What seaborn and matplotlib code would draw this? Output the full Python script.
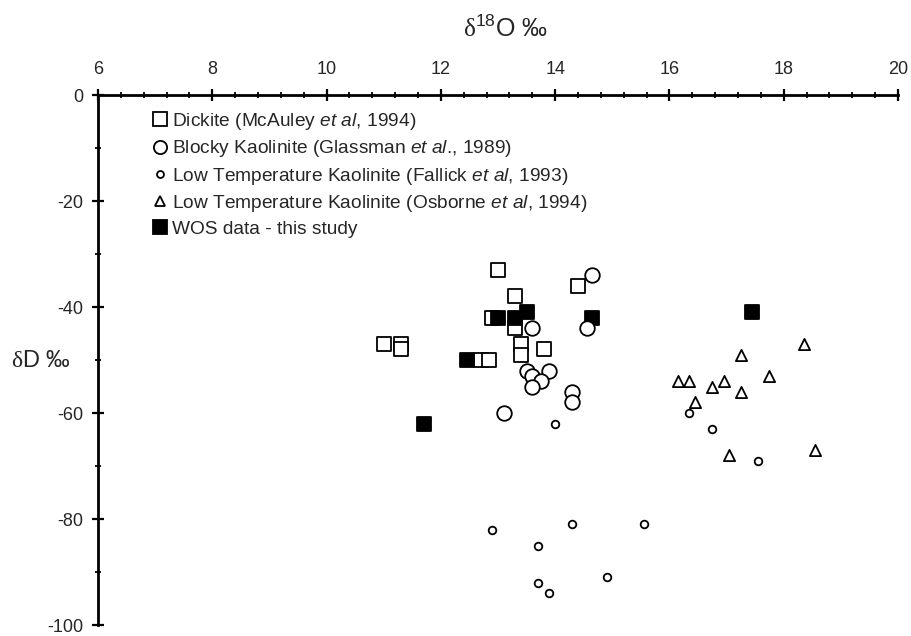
import matplotlib
matplotlib.use("Agg")
import matplotlib.pyplot as plt
import seaborn as sns
import pandas as pd
from matplotlib.ticker import MultipleLocator
from matplotlib.lines import Line2D

# ---------------- data ----------------
dickite_x = [11.0, 11.3, 11.3, 12.7, 12.85, 13.0, 13.3, 12.9, 13.3, 13.4, 13.4, 13.8, 14.4]
dickite_y = [-47, -47, -48, -50, -50, -33, -38, -42, -44, -47, -49, -48, -36]

blocky_x = [14.65, 13.6, 14.55, 13.5, 13.9, 13.6, 13.75, 13.6, 14.3, 14.3, 13.1]
blocky_y = [-34, -44, -44, -52, -52, -53, -54, -55, -56, -58, -60]

fallick_x = [14.0, 16.35, 16.75, 17.55, 12.9, 14.3, 15.55, 13.7, 13.7, 13.9, 14.9]
fallick_y = [-62, -60, -63, -69, -82, -81, -81, -85, -92, -94, -91]

osborne_x = [16.15, 16.35, 16.45, 16.75, 16.95, 17.25, 17.25, 17.75, 18.35, 17.05, 18.55]
osborne_y = [-54, -54, -58, -55, -54, -49, -56, -53, -47, -68, -67]

wos_x = [12.45, 11.7, 13.0, 13.3, 13.5, 14.65, 17.45]
wos_y = [-50, -62, -42, -42, -41, -42, -41]

labels = [
    r"Dickite (McAuley $\it{et\ al}$, 1994)",
    r"Blocky Kaolinite (Glassman $\it{et\ al}$., 1989)",
    r"Low Temperature Kaolinite (Fallick $\it{et\ al}$, 1993)",
    r"Low Temperature Kaolinite (Osborne $\it{et\ al}$, 1994)",
    "WOS data - this study",
]

# ---------------- style ----------------
sns.set_theme(style="white")
plt.rcParams["font.family"] = ["Liberation Sans", "DejaVu Sans"]
plt.rcParams["axes.unicode_minus"] = False
plt.rcParams["mathtext.fontset"] = "custom"
plt.rcParams["mathtext.rm"] = "Liberation Serif"
plt.rcParams["mathtext.it"] = "Liberation Sans:italic"
plt.rcParams["mathtext.sf"] = "Liberation Sans"
plt.rcParams["mathtext.bf"] = "Liberation Sans:bold"

fig = plt.figure(figsize=(9.12, 6.36), dpi=100)
ax = fig.add_axes([98 / 912, 1 - 625 / 636, 800 / 912, 530 / 636])

lw = 1.3
common = dict(ax=ax, legend=False, linewidth=lw)
sns.scatterplot(x=dickite_x, y=dickite_y, marker="s", s=95, color="white",
                edgecolor="black", zorder=3, **common)
sns.scatterplot(x=wos_x, y=wos_y, marker="s", s=95, color="black",
                edgecolor="black", zorder=4, **common)
sns.scatterplot(x=blocky_x, y=blocky_y, marker="o", s=110, color="white",
                edgecolor="black", zorder=5, **common)
sns.scatterplot(x=fallick_x, y=fallick_y, marker="o", s=30, color="white",
                edgecolor="black", zorder=5, **common)
sns.scatterplot(x=osborne_x, y=osborne_y, marker="^", s=65, color="white",
                edgecolor="black", zorder=5, **common)

ax.set_xlim(6, 20)
ax.set_ylim(-100, 0)

# axes: top and left spines only
for side in ["right", "bottom"]:
    ax.spines[side].set_visible(False)
for side in ["top", "left"]:
    ax.spines[side].set_color("black")
    ax.spines[side].set_linewidth(2.0)

ax.xaxis.set_ticks_position("top")
ax.xaxis.set_label_position("top")
ax.xaxis.set_major_locator(MultipleLocator(2))
ax.xaxis.set_minor_locator(MultipleLocator(0.4))
ax.yaxis.set_major_locator(MultipleLocator(20))
ax.yaxis.set_minor_locator(MultipleLocator(10))
ax.tick_params(which="major", direction="inout", length=9, width=1.6,
               labelsize=13, color="black", pad=8)
ax.tick_params(which="minor", direction="inout", length=5, width=1.3,
               color="black")
ax.tick_params(axis="y", which="major", pad=6)
ax.tick_params(axis="x", which="both", top=True, bottom=False)
ax.tick_params(axis="y", which="both", left=True, right=False)
ax.grid(False)

# titles
fig.text(505 / 912, 1 - 29 / 636, r"$\mathrm{\delta}^{\mathsf{18}}$O ‰",
         ha="center", va="center", fontsize=18)
fig.text(41 / 912, 1 - 361 / 636, r"$\mathrm{\delta}$D ‰",
         ha="center", va="center", fontsize=17)

# legend
handles = [
    Line2D([], [], marker="s", ls="", markersize=9.5, markerfacecolor="white",
           markeredgecolor="black", markeredgewidth=lw),
    Line2D([], [], marker="o", ls="", markersize=9.5, markerfacecolor="white",
           markeredgecolor="black", markeredgewidth=lw),
    Line2D([], [], marker="o", ls="", markersize=5, markerfacecolor="white",
           markeredgecolor="black", markeredgewidth=lw),
    Line2D([], [], marker="^", ls="", markersize=6.5, markerfacecolor="white",
           markeredgecolor="black", markeredgewidth=lw),
    Line2D([], [], marker="s", ls="", markersize=9.5, markerfacecolor="black",
           markeredgecolor="black", markeredgewidth=lw),
]
leg = ax.legend(handles, labels, loc="upper left",
                bbox_to_anchor=(152 / 912, 1 - 111 / 636),
                bbox_transform=fig.transFigure, frameon=False,
                fontsize=13.8, handlelength=0.8, handletextpad=0.22,
                labelspacing=0.33, borderaxespad=0, borderpad=0)

fig.savefig("out.png", dpi=100)
